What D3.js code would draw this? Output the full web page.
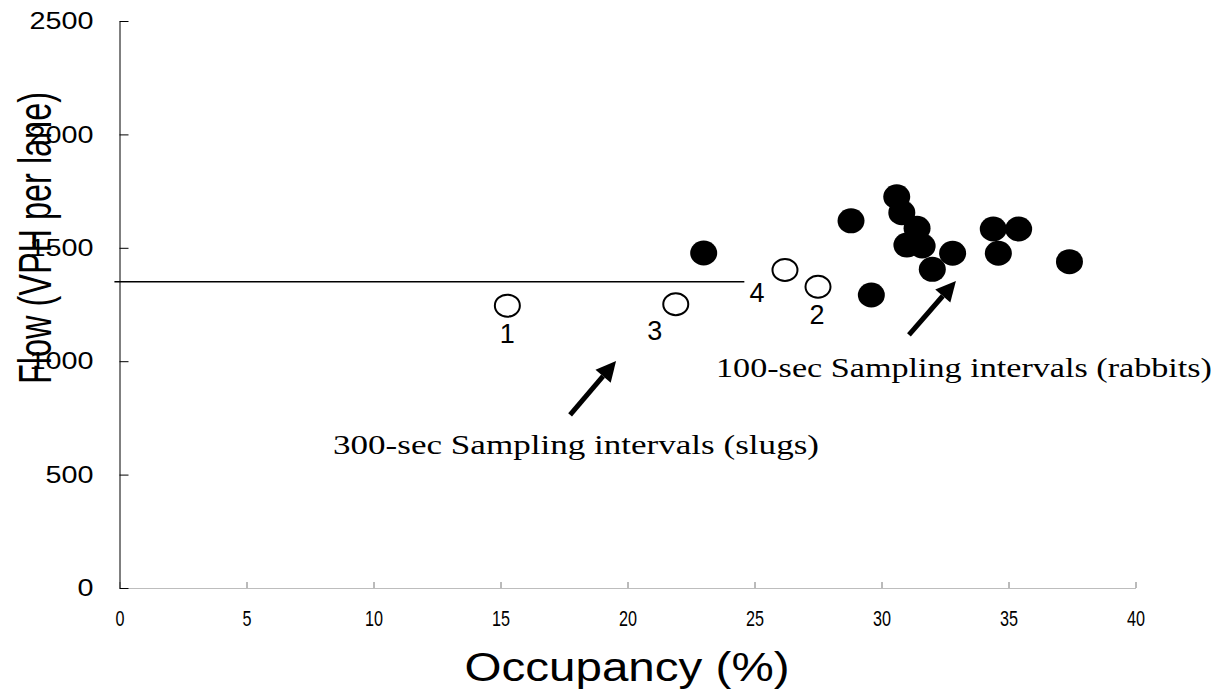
<!DOCTYPE html>
<html>
<head>
<meta charset="utf-8">
<script src="https://cdn.jsdelivr.net/npm/d3@7"></script>
<style>
  html, body { margin: 0; padding: 0; background: #fff; }
  svg { display: block; }
</style>
</head>
<body>
<svg id="chart" width="1225" height="689"></svg>
<script>
// ---- data ----
const xTicks = [0, 5, 10, 15, 20, 25, 30, 35, 40];
const yTicks = [0, 500, 1000, 1500, 2000, 2500];

// 100-sec sampling intervals (rabbits): occupancy %, flow VPH per lane
const rabbitsOcc  = [23.0, 28.8, 30.6, 30.8, 31.4, 31.0, 31.6, 32.8, 32.0, 34.4, 35.4, 34.6, 37.4, 29.6];
const rabbitsFlow = [1477, 1619, 1725, 1655, 1586, 1512, 1508, 1476, 1405, 1583, 1583, 1476, 1439, 1292];

// 300-sec sampling intervals (slugs)
const slugLabels = ["1", "3", "4", "2"];
const slugsOcc   = [15.27, 21.9, 26.2, 27.5];
const slugsFlow  = [1245, 1251, 1402, 1328];

// horizontal reference line
const refLineOcc  = [-0.2, 24.6];
const refLineFlow = 1350;

// annotation arrows [tailOcc, tailFlow, tipOcc, tipFlow]
const arrowSlugs   = [17.74, 763, 19.55, 1001];
const arrowRabbits = [31.08, 1116, 32.93, 1354];

const annSlugs   = "300-sec Sampling intervals (slugs)";
const annRabbits = "100-sec Sampling intervals (rabbits)";

// ---- chart ----
const svg = d3.select("#chart");
const x = d3.scaleLinear().domain([0, 40]).range([119.5, 1135.5]);
const y = d3.scaleLinear().domain([0, 2500]).range([588, 21]);
const sans = "Liberation Sans, Arial, sans-serif";

// x axis
const gx = svg.append("g")
  .attr("transform", `translate(0,${y(0)})`)
  .call(d3.axisBottom(x).tickValues(xTicks).tickFormat(d3.format("d"))
        .tickSizeInner(-6).tickSizeOuter(0).tickPadding(22));
gx.select(".domain").attr("stroke", "#bdbdbd");
gx.selectAll(".tick line").attr("stroke", "#777");
gx.selectAll(".tick text")
  .style("font-family", sans)
  .style("font-size", "22px")
  .attr("fill", "#000")
  .each(function(d) {
    const s = String(d);
    d3.select(this).attr("textLength", 9 * s.length).attr("lengthAdjust", "spacingAndGlyphs");
  });

// y axis
const gy = svg.append("g")
  .attr("transform", `translate(${x(0)},0)`)
  .call(d3.axisLeft(y).tickValues(yTicks).tickFormat(d3.format("d"))
        .tickSizeInner(-9).tickSizeOuter(0).tickPadding(26));
gy.select(".domain").attr("stroke", "#000");
gy.selectAll(".tick line").attr("stroke", "#000");
gy.selectAll(".tick text")
  .style("font-family", sans)
  .style("font-size", "24px")
  .attr("fill", "#000")
  .each(function(d) {
    const s = String(d);
    d3.select(this).attr("textLength", 16 * s.length).attr("lengthAdjust", "spacingAndGlyphs");
  });

// axis titles
svg.append("text")
  .attr("x", 627).attr("y", 681)
  .attr("text-anchor", "middle")
  .style("font-family", sans)
  .style("font-size", "40px")
  .attr("textLength", 325).attr("lengthAdjust", "spacingAndGlyphs")
  .text("Occupancy (%)");

svg.append("text")
  .attr("transform", "translate(51,238) rotate(-90)")
  .attr("text-anchor", "middle")
  .style("font-family", sans)
  .style("font-size", "47px")
  .attr("textLength", 292).attr("lengthAdjust", "spacingAndGlyphs")
  .text("Flow (VPH per lane)");

// reference line
svg.append("line")
  .attr("x1", x(refLineOcc[0])).attr("x2", x(refLineOcc[1]))
  .attr("y1", y(refLineFlow)).attr("y2", y(refLineFlow))
  .attr("stroke", "#000").attr("stroke-width", 1.5);

// rabbits (filled)
const rabbits = rabbitsOcc.map((o, i) => ({ occ: o, flow: rabbitsFlow[i] }));
svg.append("g").selectAll("ellipse").data(rabbits).join("ellipse")
  .attr("cx", d => x(d.occ)).attr("cy", d => y(d.flow))
  .attr("rx", 13.5).attr("ry", 12.5)
  .attr("fill", "#000");

// slugs (open)
const slugs = slugsOcc.map((o, i) => ({ occ: o, flow: slugsFlow[i], label: slugLabels[i] }));
svg.append("g").selectAll("ellipse").data(slugs).join("ellipse")
  .attr("cx", d => x(d.occ)).attr("cy", d => y(d.flow))
  .attr("rx", 12.5).attr("ry", 11)
  .attr("fill", "#fff").attr("stroke", "#000").attr("stroke-width", 2);

const labelOffset = { "1": [0, 37], "3": [-21, 36], "4": [-28, 32], "2": [-1, 37] };
svg.append("g").selectAll("text").data(slugs).join("text")
  .attr("x", d => x(d.occ) + labelOffset[d.label][0])
  .attr("y", d => y(d.flow) + labelOffset[d.label][1])
  .attr("text-anchor", "middle")
  .style("font-family", sans)
  .style("font-size", "27px")
  .text(d => d.label);

// arrows
function drawArrow(a) {
  const x1 = x(a[0]), y1 = y(a[1]), x2 = x(a[2]), y2 = y(a[3]);
  const ang = Math.atan2(y2 - y1, x2 - x1);
  const headLen = 20, headW = 10;
  const bx = x2 - headLen * Math.cos(ang), by = y2 - headLen * Math.sin(ang);
  svg.append("line")
    .attr("x1", x1).attr("y1", y1).attr("x2", bx).attr("y2", by)
    .attr("stroke", "#000").attr("stroke-width", 5);
  const px = -Math.sin(ang), py = Math.cos(ang);
  svg.append("path")
    .attr("d", `M${x2},${y2} L${bx + px * headW},${by + py * headW} L${bx - px * headW},${by - py * headW} Z`)
    .attr("fill", "#000");
}
drawArrow(arrowSlugs);
drawArrow(arrowRabbits);

// annotation texts
const serif = "Liberation Serif, Times New Roman, serif";
svg.append("text")
  .attr("x", 333).attr("y", 454)
  .style("font-family", serif)
  .style("font-size", "28px")
  .attr("textLength", 486).attr("lengthAdjust", "spacingAndGlyphs")
  .text(annSlugs);

svg.append("text")
  .attr("x", 716).attr("y", 377)
  .style("font-family", serif)
  .style("font-size", "28px")
  .attr("textLength", 496).attr("lengthAdjust", "spacingAndGlyphs")
  .text(annRabbits);
</script>
</body>
</html>
